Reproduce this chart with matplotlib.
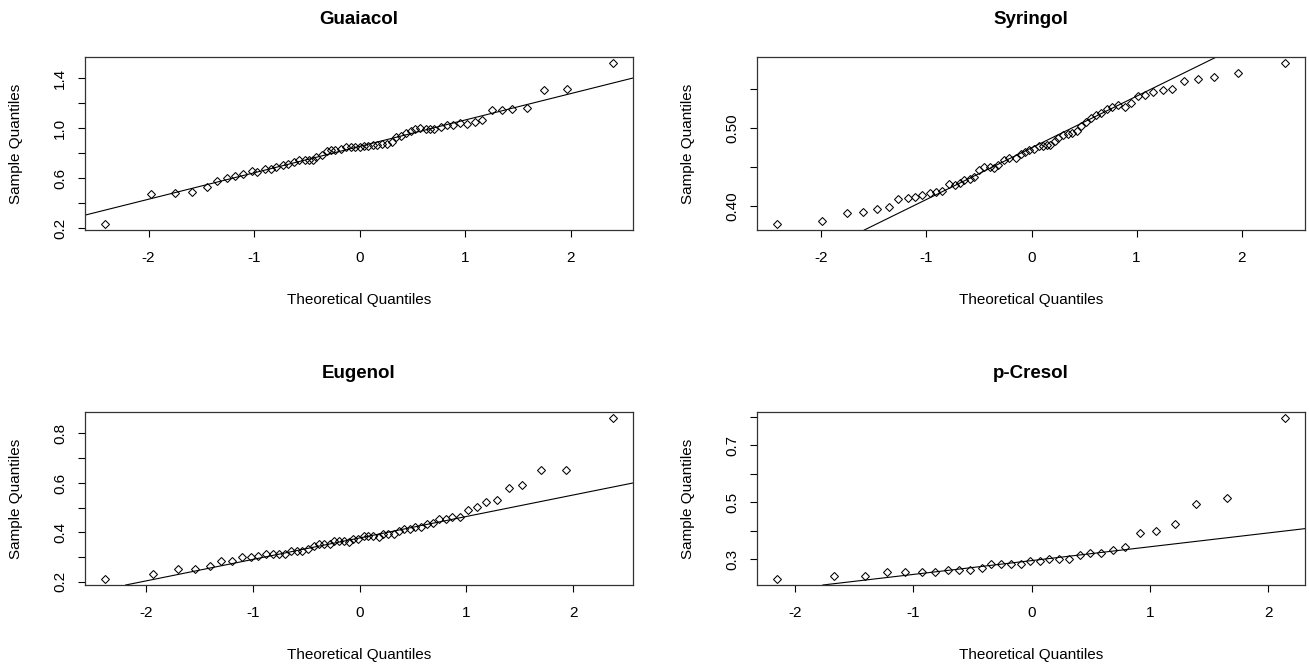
import matplotlib
matplotlib.use("Agg")
import matplotlib.pyplot as plt
import numpy as np
from statistics import NormalDist

plt.rcParams['font.family'] = ['Liberation Sans', 'DejaVu Sans']

# sample quantiles (sorted) and theoretical quantiles
guaiacol_x = [-2.41, -1.98, -1.75, -1.59, -1.45, -1.35, -1.26, -1.18, -1.10, -1.02,
              -0.97, -0.90, -0.84, -0.79, -0.73, -0.68, -0.62, -0.57, -0.52, -0.48,
              -0.44, -0.41, -0.36, -0.31, -0.27, -0.23, -0.18, -0.13, -0.08, -0.04,
              0.00, 0.04, 0.08, 0.13, 0.17, 0.21, 0.26, 0.31, 0.35, 0.39,
              0.44, 0.49, 0.53, 0.57, 0.63, 0.67, 0.71, 0.77, 0.83, 0.89,
              0.95, 1.02, 1.09, 1.16, 1.26, 1.35, 1.45, 1.59, 1.75, 1.97, 2.40]
guaiacol_y = [0.235, 0.472, 0.480, 0.490, 0.530, 0.573, 0.603, 0.613, 0.635, 0.653,
              0.650, 0.670, 0.670, 0.685, 0.700, 0.710, 0.730, 0.740, 0.745, 0.740,
              0.747, 0.765, 0.787, 0.813, 0.820, 0.827, 0.832, 0.845, 0.845, 0.845,
              0.850, 0.856, 0.859, 0.864, 0.864, 0.869, 0.875, 0.890, 0.925, 0.940,
              0.960, 0.980, 0.992, 0.997, 0.995, 0.995, 0.995, 1.005, 1.027, 1.027,
              1.037, 1.035, 1.045, 1.064, 1.144, 1.144, 1.152, 1.163, 1.304, 1.312, 1.517]

syringol_x = [-2.42, -1.99, -1.76, -1.60, -1.47, -1.36, -1.27, -1.18, -1.11, -1.04,
              -0.97, -0.91, -0.85, -0.79, -0.73, -0.68, -0.64, -0.59, -0.55, -0.50,
              -0.45, -0.40, -0.36, -0.32, -0.26, -0.21, -0.15, -0.10, -0.06, -0.02,
              0.02, 0.07, 0.11, 0.15, 0.18, 0.22, 0.25, 0.30, 0.35, 0.39,
              0.43, 0.47, 0.52, 0.57, 0.61, 0.66, 0.72, 0.77, 0.82, 0.89,
              0.95, 1.01, 1.08, 1.16, 1.25, 1.34, 1.45, 1.58, 1.74, 1.97, 2.41]
syringol_y = [0.3777, 0.3806, 0.3917, 0.3930, 0.3964, 0.3994, 0.4088, 0.4109, 0.4122, 0.4139,
              0.4169, 0.4182, 0.4199, 0.4280, 0.4271, 0.4301, 0.4340, 0.4344, 0.4378, 0.4463,
              0.4506, 0.4506, 0.4493, 0.4531, 0.4595, 0.4616, 0.4620, 0.4663, 0.4689, 0.4719,
              0.4736, 0.4774, 0.4770, 0.4778, 0.4783, 0.4830, 0.4872, 0.4906, 0.4928, 0.4936,
              0.4966, 0.5030, 0.5081, 0.5132, 0.5166, 0.5192, 0.5243, 0.5273, 0.5294, 0.5273,
              0.5315, 0.5409, 0.5426, 0.5456, 0.5486, 0.5499, 0.5597, 0.5622, 0.5648, 0.5703, 0.5827]

eugenol_x = [-2.38, -1.93, -1.70, -1.54, -1.40, -1.30, -1.19, -1.10, -1.02, -0.95,
             -0.88, -0.81, -0.75, -0.70, -0.64, -0.59, -0.54, -0.48, -0.43, -0.38,
             -0.33, -0.28, -0.24, -0.19, -0.15, -0.10, -0.06, -0.01, 0.04, 0.08,
             0.13, 0.18, 0.22, 0.27, 0.32, 0.37, 0.42, 0.47, 0.52, 0.58,
             0.63, 0.69, 0.74, 0.81, 0.87, 0.94, 1.02, 1.10, 1.18, 1.29,
             1.40, 1.52, 1.70, 1.93, 2.37]
eugenol_y = [0.2135, 0.2336, 0.2538, 0.2538, 0.2633, 0.2834, 0.2834, 0.3023, 0.3023, 0.3050,
             0.3130, 0.3144, 0.3144, 0.3144, 0.3252, 0.3252, 0.3238, 0.3332, 0.3454, 0.3548,
             0.3548, 0.3521, 0.3655, 0.3655, 0.3655, 0.3628, 0.3736, 0.3723, 0.3857, 0.3870,
             0.3857, 0.3830, 0.3938, 0.3952, 0.3952, 0.4059, 0.4140, 0.4140, 0.4234, 0.4234,
             0.4328, 0.4396, 0.4530, 0.4544, 0.4638, 0.4638, 0.4920, 0.5028, 0.5217, 0.5311,
             0.5809, 0.5917, 0.6522, 0.6522, 0.8608]

pcresol_x = [-2.15, -1.67, -1.41, -1.22, -1.07, -0.93, -0.82, -0.71, -0.61, -0.52,
             -0.42, -0.34, -0.26, -0.17, -0.09, -0.01, 0.07, 0.15, 0.23, 0.32,
             0.41, 0.49, 0.59, 0.69, 0.79, 0.92, 1.05, 1.21, 1.39, 1.65, 2.14]
pcresol_y = [0.2322, 0.2404, 0.2404, 0.2544, 0.2544, 0.2544, 0.2544, 0.2626, 0.2626, 0.2626,
             0.2696, 0.2848, 0.2848, 0.2836, 0.2836, 0.2930, 0.2930, 0.3012, 0.3012, 0.3012,
             0.3140, 0.3234, 0.3234, 0.3327, 0.3444, 0.3923, 0.4005, 0.4227, 0.4928, 0.5150, 0.7942]

titles = ["Guaiacol", "Syringol", "Eugenol", "p-Cresol"]
xs = [guaiacol_x, syringol_x, eugenol_x, pcresol_x]
ys = [guaiacol_y, syringol_y, eugenol_y, pcresol_y]

# y ticks and which of them carry a label (R drops overlapping ones)
yticks = [[0.2, 0.4, 0.6, 0.8, 1.0, 1.2, 1.4],
          [0.40, 0.45, 0.50, 0.55],
          [0.2, 0.3, 0.4, 0.5, 0.6, 0.7, 0.8],
          [0.3, 0.4, 0.5, 0.6, 0.7, 0.8]]
ylabels = [["0.2", "", "0.6", "", "1.0", "", "1.4"],
           ["0.40", "", "0.50", ""],
           ["0.2", "", "0.4", "", "0.6", "", "0.8"],
           ["0.3", "", "0.5", "", "0.7", ""]]
xticks = [-2, -1, 0, 1, 2]

W, H = 1309, 668
fig = plt.figure(figsize=(W / 100, H / 100), dpi=100)

# frame boxes in pixels: left, top, right, bottom
boxes = [(85, 57, 633, 230), (757, 57, 1305, 230),
         (85, 412, 633, 585), (757, 412, 1305, 585)]

q75 = NormalDist().inv_cdf(0.75)

for i in range(4):
    l, t, r, b = boxes[i]
    ax = fig.add_axes([l / W, 1 - b / H, (r - l) / W, (b - t) / H])
    x = np.array(xs[i])
    y = np.array(ys[i])

    ax.plot(x, y, linestyle='none', marker='D', markersize=4.2,
            markerfacecolor='none', markeredgecolor='black', markeredgewidth=0.75)

    # qqline: through the first and third quartiles
    y1, y3 = np.quantile(y, [0.25, 0.75])
    slope = (y3 - y1) / (2 * q75)
    ax.axline((0, (y1 + y3) / 2), slope=slope, color='black', linewidth=0.8)

    pad_x = 0.04 * (x.max() - x.min())
    pad_y = 0.04 * (y.max() - y.min())
    ax.set_xlim(x.min() - pad_x, x.max() + pad_x)
    ax.set_ylim(y.min() - pad_y, y.max() + pad_y)

    ax.set_xticks(xticks)
    ax.set_xticklabels([str(v) for v in xticks])
    ax.set_yticks(yticks[i])
    ax.set_yticklabels(ylabels[i], rotation=90, va='center')

    ax.tick_params(axis='both', direction='out', length=5, width=0.8,
                   labelsize=11, colors='black')
    ax.tick_params(axis='x', pad=10)
    ax.tick_params(axis='y', pad=8)
    for s in ax.spines.values():
        s.set_linewidth(0.9)
        s.set_color('#333333')

    hpx = b - t
    wpx = r - l
    ax.set_xlabel("Theoretical Quantiles", fontsize=11, va='center')
    ax.xaxis.set_label_coords(0.5, -70 / hpx)
    ax.set_ylabel("Sample Quantiles", fontsize=11, va='center')
    ax.yaxis.set_label_coords(-69 / wpx, 0.5)
    ax.text(0.5, 1 + 38 / hpx, titles[i], transform=ax.transAxes,
            ha='center', va='center', fontsize=13.5, fontweight='bold')

fig.savefig("out.png", dpi=100)
